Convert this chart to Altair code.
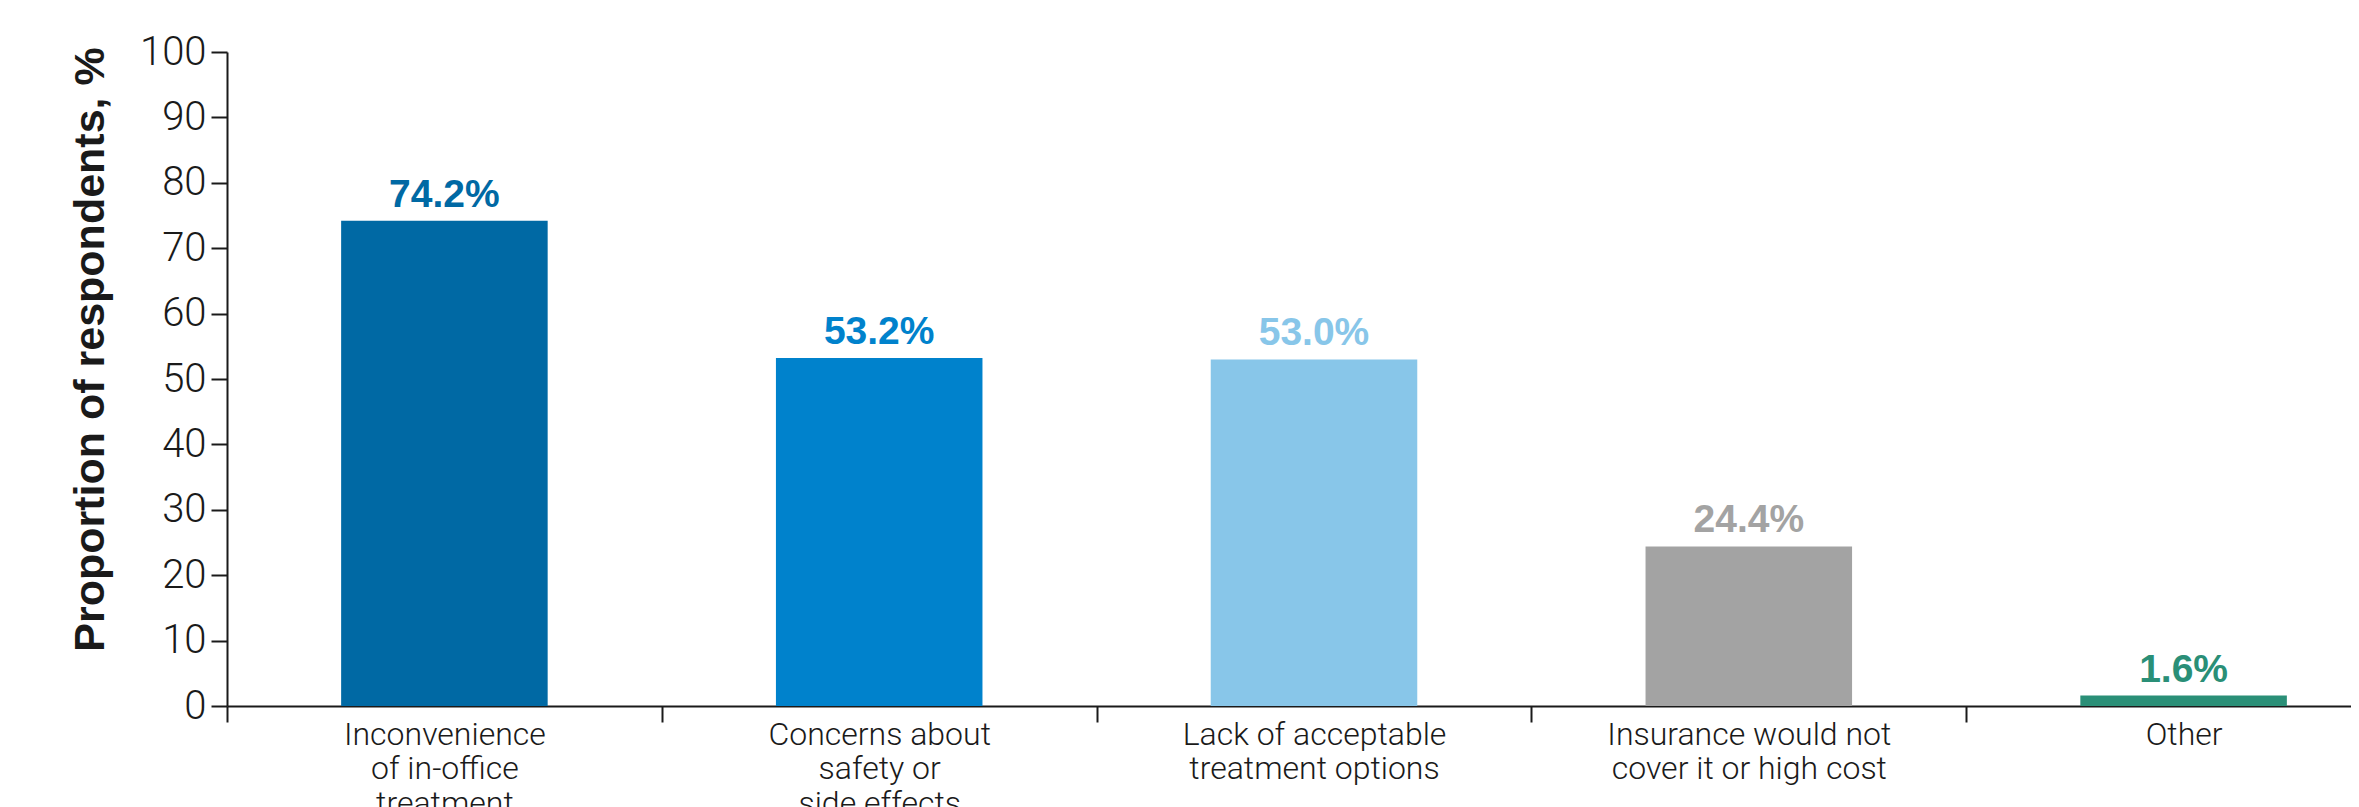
import altair as alt
import pandas as pd

categories = [
    "Inconvenience\nof in-office\ntreatment",
    "Concerns about\nsafety or\nside effects",
    "Lack of acceptable\ntreatment options",
    "Insurance would not\ncover it or high cost",
    "Other",
]
values = [74.2, 53.2, 53.0, 24.4, 1.6]
value_labels = ["74.2%", "53.2%", "53.0%", "24.4%", "1.6%"]
colors = ["#0069A4", "#0082CC", "#88C6E9", "#A3A3A3", "#2A8F77"]
y_ticks = [0, 10, 20, 30, 40, 50, 60, 70, 80, 90, 100]
y_title = "Proportion of respondents, %"

df = pd.DataFrame({"category": categories, "value": values, "label": value_labels})

INK = "#1a1a1a"

x_enc = alt.X(
    "category:N",
    sort=categories,
    scale=alt.Scale(range=[0, 2174], paddingInner=0, paddingOuter=0),
    axis=alt.Axis(
        title=None,
        labelAngle=0,
        tickBand="extent",
        labelExpr="split(datum.label, '\\n')",
        labelFont="Roboto",
        labelFontWeight=300,
        labelFontSize=32,
        labelLineHeight=34.5,
        labelColor=INK,
        labelPadding=-3,
        labelLimit=500,
        labelOverlap=False,
        tickSize=16,
        tickWidth=2,
        tickColor=INK,
        domainWidth=2,
        domainColor=INK,
    ),
)

y_enc = alt.Y(
    "value:Q",
    scale=alt.Scale(domain=[0, 100], nice=False),
    axis=alt.Axis(
        values=y_ticks,
        title=y_title,
        grid=False,
        tickSize=16,
        tickWidth=2,
        tickColor=INK,
        domainWidth=2,
        domainColor=INK,
        labelFont="Roboto",
        labelFontWeight=300,
        labelFontSize=40,
        labelColor=INK,
        labelPadding=5,
        titleFont="Liberation Sans",
        titleFontSize=43,
        titleFontWeight="bold",
        titleColor=INK,
        titleAngle=270,
        titleX=-124,
        titleY=297,
        titleAlign="center",
        titleBaseline="alphabetic",
    ),
)

color_enc = alt.Color(
    "category:N", scale=alt.Scale(domain=categories, range=colors), legend=None
)

base = alt.Chart(df).encode(x=x_enc, y=y_enc, color=color_enc)

bars = base.mark_bar(width=alt.RelativeBandSize(0.475))
texts = base.mark_text(
    dy=-14,
    baseline="alphabetic",
    fontSize=39,
    fontWeight="bold",
    font="Liberation Sans",
).encode(text="label:N")

chart = (
    alt.layer(bars, texts)
    .properties(
        width=2124,
        height=654,
        autosize=alt.AutoSizeParams(type="none"),
        padding={"left": 219, "top": 44, "right": 0, "bottom": 110},
    )
    .configure_view(stroke=None)
)

chart.save("out.html", embed_options={"renderer": "svg", "actions": False})
